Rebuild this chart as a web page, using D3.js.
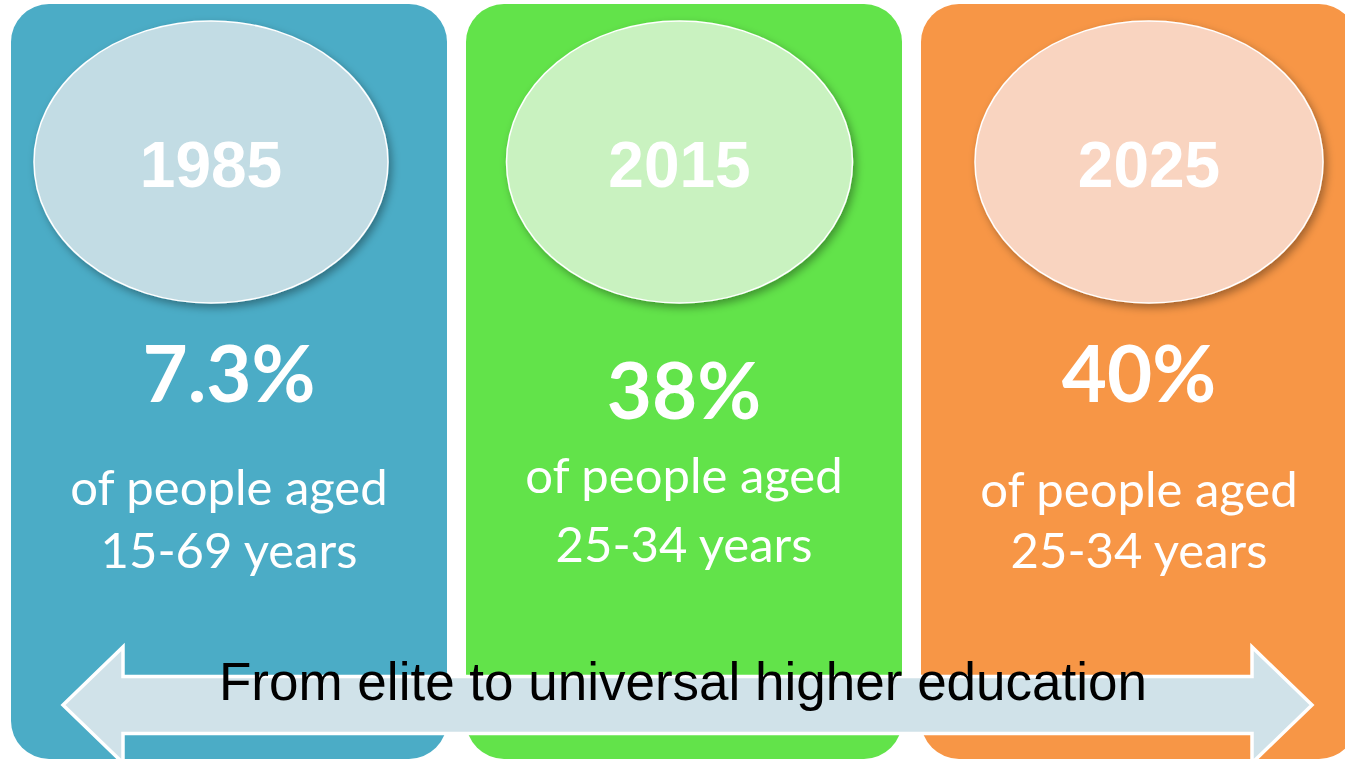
<!DOCTYPE html>
<html>
<head>
<meta charset="utf-8">
<script src="https://cdn.jsdelivr.net/npm/d3@7"></script>
<style>
  body { margin: 0; background: #fff; }
</style>
</head>
<body>
<div id="wrapper"></div>
<script>
// data
const years = ['1985', '2015', '2025']
const shares = ['7.3%', '38%', '40%']
const captionLine = 'of people aged'
const ageGroups = ['15-69 years', '25-34 years', '25-34 years']
const arrowLabel = 'From elite to universal higher education'

// styles
const panelColors = ['#4BACC6', '#62E34A', '#F79646']
const ellipseColors = ['#C2DCE4', '#C9F2C0', '#F9D4C0']

// per panel tweaks (offset from panel centre)
const ellipseShift = [-18, -4.5, 10]
const ellipseRx = [177, 173, 174]
const shareBaseline = [402, 419, 402]
const line1Baseline = [505, 493, 507]
const line2Baseline = [568, 562, 568]

const dimensions = {
  width: 1345,
  height: 761
}

const wrapper = d3.select('#wrapper')
  .append('svg')
    .attr('width', dimensions.width)
    .attr('height', dimensions.height)

const defs = wrapper.append('defs')
defs.append('filter')
    .attr('id', 'shadow')
    .attr('x', '-20%').attr('y', '-20%')
    .attr('width', '140%').attr('height', '140%')
  .append('feDropShadow')
    .attr('dx', 3)
    .attr('dy', 4)
    .attr('stdDeviation', 4)
    .attr('flood-color', '#000')
    .attr('flood-opacity', 0.35)

//scales
const xScale = d3.scaleBand()
  .domain(years)
  .range([11, 1357])
  .paddingInner(19 / 455)

const panels = wrapper.selectAll('g.panel')
  .data(years)
  .enter().append('g')
    .attr('class', 'panel')

panels.append('rect')
  .attr('x', d => xScale(d))
  .attr('y', 4)
  .attr('width', xScale.bandwidth())
  .attr('height', 755)
  .attr('rx', 38)
  .attr('fill', (d, i) => panelColors[i])

const cx = (d, i) => xScale(d) + xScale.bandwidth() / 2

panels.append('ellipse')
  .attr('cx', (d, i) => cx(d, i) + ellipseShift[i])
  .attr('cy', 162)
  .attr('rx', (d, i) => ellipseRx[i])
  .attr('ry', 141)
  .attr('fill', (d, i) => ellipseColors[i])
  .attr('stroke', '#fff')
  .attr('stroke-width', 1.5)
  .attr('filter', 'url(#shadow)')

panels.append('text')
  .attr('x', (d, i) => cx(d, i) + ellipseShift[i])
  .attr('y', 187)
  .attr('text-anchor', 'middle')
  .style('font-family', '"Liberation Sans", Arial, sans-serif')
  .style('font-weight', 'bold')
  .style('font-size', '64px')
  .attr('fill', '#fff')
  .text(d => d)

panels.append('text')
  .attr('x', cx)
  .attr('y', (d, i) => shareBaseline[i])
  .attr('text-anchor', 'middle')
  .style('font-family', 'Lato, "Open Sans", sans-serif')
  .style('font-weight', 'bold')
  .style('font-size', '78px')
  .attr('fill', '#fff')
  .text((d, i) => shares[i])

panels.append('text')
  .attr('x', cx)
  .attr('y', (d, i) => line1Baseline[i])
  .attr('text-anchor', 'middle')
  .style('font-family', 'Lato, "Open Sans", sans-serif')
  .style('font-size', '49px')
  .attr('fill', '#fff')
  .text(captionLine)

panels.append('text')
  .attr('x', cx)
  .attr('y', (d, i) => line2Baseline[i])
  .attr('text-anchor', 'middle')
  .style('font-family', 'Lato, "Open Sans", sans-serif')
  .style('font-size', '49px')
  .attr('fill', '#fff')
  .text((d, i) => ageGroups[i])

// double headed arrow
const arrow = { left: 63, right: 1312, head: 60, mid: 705, shaftHalf: 28.5, headHalf: 58 }
const arrowPath = d3.path()
arrowPath.moveTo(arrow.left, arrow.mid)
arrowPath.lineTo(arrow.left + arrow.head, arrow.mid - arrow.headHalf)
arrowPath.lineTo(arrow.left + arrow.head, arrow.mid - arrow.shaftHalf)
arrowPath.lineTo(arrow.right - arrow.head, arrow.mid - arrow.shaftHalf)
arrowPath.lineTo(arrow.right - arrow.head, arrow.mid - arrow.headHalf)
arrowPath.lineTo(arrow.right, arrow.mid)
arrowPath.lineTo(arrow.right - arrow.head, arrow.mid + arrow.headHalf)
arrowPath.lineTo(arrow.right - arrow.head, arrow.mid + arrow.shaftHalf)
arrowPath.lineTo(arrow.left + arrow.head, arrow.mid + arrow.shaftHalf)
arrowPath.lineTo(arrow.left + arrow.head, arrow.mid + arrow.headHalf)
arrowPath.closePath()

wrapper.append('path')
  .attr('d', arrowPath.toString())
  .attr('fill', '#D0E2E9')
  .attr('stroke', '#fff')
  .attr('stroke-width', 3.5)
  .attr('stroke-linejoin', 'miter')

wrapper.append('text')
  .attr('x', 683)
  .attr('y', 700)
  .attr('text-anchor', 'middle')
  .style('font-family', '"Liberation Sans", Arial, sans-serif')
  .style('font-size', '53px')
  .attr('fill', '#000')
  .text(arrowLabel)
</script>
</body>
</html>
